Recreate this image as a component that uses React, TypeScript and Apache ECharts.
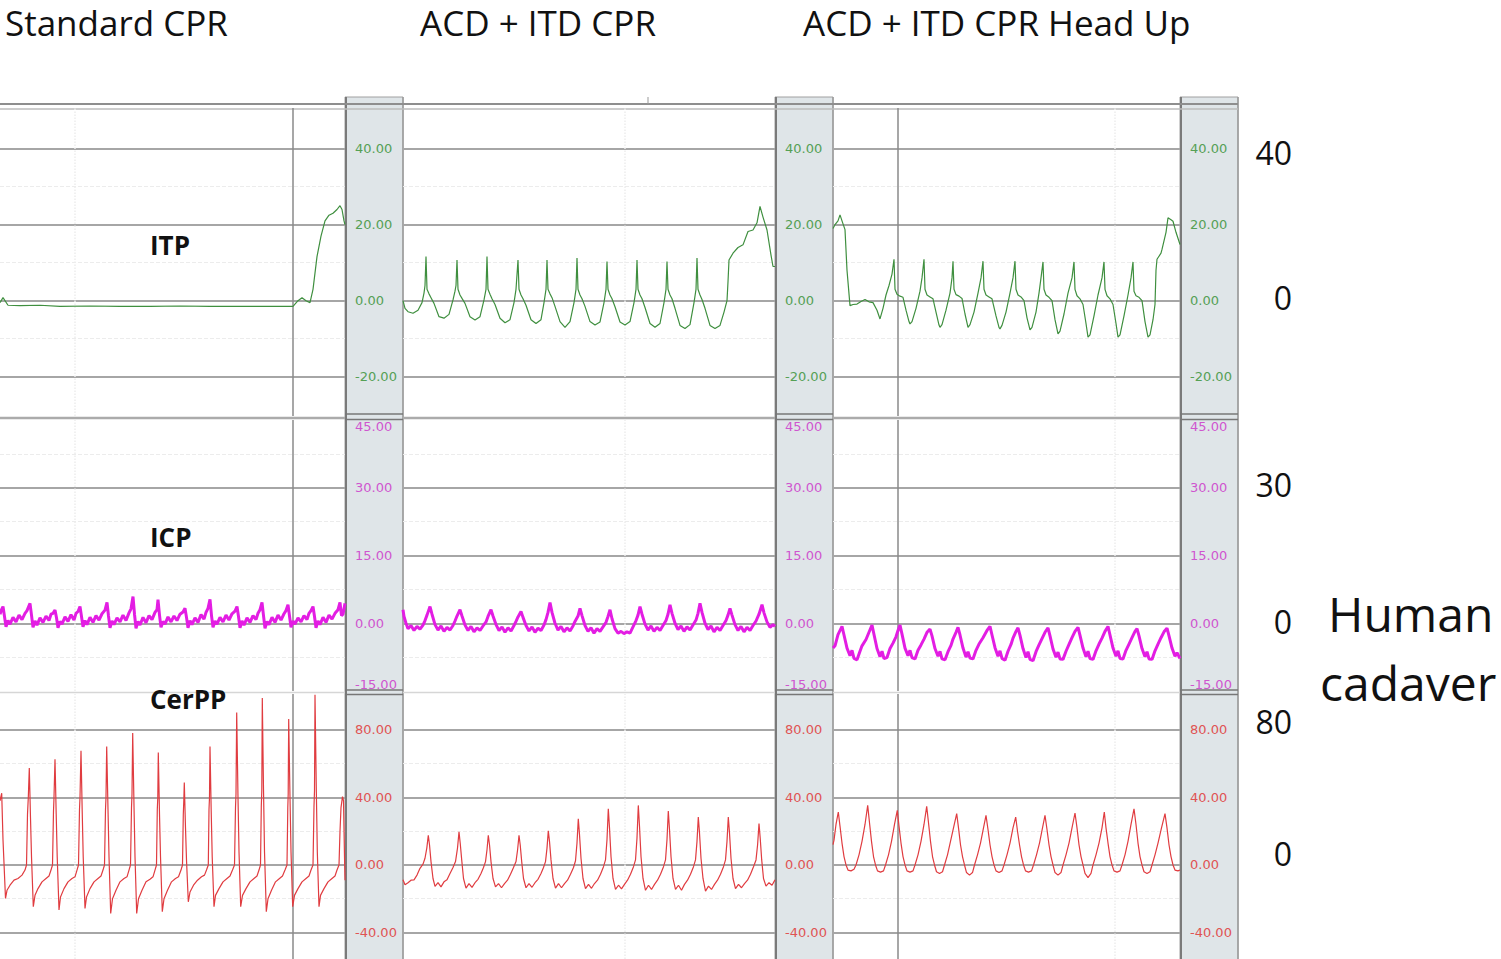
import React, { useEffect, useRef } from "react";
import * as echarts from "echarts";

// ---------- text ----------
const panelTitles = ["Standard CPR", "ACD + ITD CPR", "ACD + ITD CPR Head Up"];
const signalNames = ["ITP", "ICP", "CerPP"];
const sideScaleLabels = [["40", "0"], ["30", "0"], ["80", "0"]];
const sideCaption = ["Human", "cadaver"];

// ---------- axis ticks ----------
const itpTicks = [-20, 0, 20, 40];
const icpTicks = [-15, 0, 15, 30, 45];
const cerppTicks = [-40, 0, 40, 80];
const itpGridValues = [-20, 0, 20, 40];
const icpGridValues = [0, 15, 30];
const cerppGridValues = [-40, 0, 40, 80];
const itpMinorValues = [-10, 10, 30];
const icpMinorValues = [-7.5, 7.5, 22.5, 37.5];
const cerppMinorValues = [-20, 20, 60];

// ---------- ITP (mmHg) [time, value] ----------
const itpStandard: [number, number][] = [
  [0, -0.5], [3, 0.8], [8, -1.2], [20, -1.3], [40, -1.2], [60, -1.5], [90, -1.4], [120, -1.5], [150, -1.5], [180, -1.4],
  [210, -1.5], [240, -1.5], [270, -1.5], [293, -1.5], [298, 0], [302, 0.8], [306, 0], [310, -0.5], [313, 3], [317, 11.6],
  [321, 17], [325, 21], [329, 22.5], [333, 23], [337, 24], [340, 25], [342, 24], [344, 21], [345, 20],
];
const itpAcdItd: [number, number][] = [
  [0, 0], [2, -2], [5, -2.9], [10, -3.3], [15, -2.5], [19, -0.5], [21, 2], [22, 4],
  [23, 11.6], [24, 3], [26, 1.8], [28, 0.8], [31, -0.7], [36, -4.2], [41, -4.6], [46, -3.6], [50, 0.2], [52, 2.5], [53, 4],
  [54, 10.7], [55, 3], [57, 1.5], [59, 0.6], [62, -0.7], [67, -4.2], [72, -5.1], [77, -4.2], [81, 0.2], [83, 3],
  [84, 11.6], [85, 3], [87, 1.7], [89, 0.5], [92, -1], [97, -4.6], [102, -5.8], [107, -5], [111, -0.5], [113, 3],
  [115, 10.7], [116, 3], [118, 1.5], [120, 0.5], [123, -1.2], [128, -5], [133, -6], [138, -5], [141, -0.5], [143, 3],
  [144, 10.7], [145, 3], [147, 1.8], [149, 0.8], [152, -1.5], [157, -5.5], [162, -7], [167, -5.5], [171, -0.5], [173, 3],
  [174, 11.2], [175, 3], [177, 1.5], [179, 0.5], [182, -1.5], [187, -5.5], [192, -6.4], [197, -5.6], [201, -0.5], [203, 3],
  [204, 10.3], [205, 3], [207, 1.5], [209, 0.5], [212, -1.6], [217, -5.6], [222, -6.4], [227, -5.5], [231, -0.5], [233, 3],
  [234, 10.7], [235, 3], [237, 1.5], [239, 0.5], [242, -1.8], [247, -6], [252, -7], [257, -6], [261, -0.5], [263, 3],
  [264, 10.3], [265, 3], [267, 1.5], [269, 0.5], [272, -2], [277, -6.5], [282, -7.3], [287, -6.3], [291, -0.5], [293, 3],
  [294, 11.2], [295, 3], [297, 1.5], [299, 0.3], [302, -2], [307, -6.5], [312, -7.3], [317, -6.5], [321, -3], [324, 0],
  [325, 5], [326, 10.7], [330, 12.5], [335, 14], [340, 14.7], [345, 18.2], [350, 18.6], [354, 20.5], [357, 24.8],
  [360, 22], [364, 18.6], [368, 12], [370, 9], [372, 9],
];
const itpHeadUp: [number, number][] = [
  [0, 19], [2, 20], [5, 21], [7, 22.6], [9, 21], [12, 18.7], [14, 8], [17, -1.3], [20, -1], [24, -0.9], [28, -0.2],
  [32, 0.3], [36, -0.3], [40, -0.5], [44, -2.5], [47, -4.8], [50, -2], [53, 1.5], [56, 4], [59, 7],
  [61, 10.9], [62, 3], [64, 1.7], [67, 1.2], [70, 0.9], [73, -2.5], [76, -5.5], [77, -6.1], [79, -5.5], [83, -2], [87, 2.5], [89, 6],
  [91, 10.9], [92, 3], [94, 1.5], [97, 1], [100, 0.5], [103, -3], [106, -6.4], [107, -7], [109, -6.3], [113, -2.5], [117, 2], [119, 6],
  [120, 10.4], [121, 3], [123, 1.6], [126, 1.2], [129, 0.6], [132, -3.5], [135, -7], [137, -6.3], [141, -3], [145, 2], [148, 6],
  [150, 10.4], [151, 3], [153, 1.5], [156, 1], [159, 0.5], [163, -4], [166, -7], [167, -7.4], [169, -6.5], [173, -3], [177, 2], [180, 6],
  [182, 10.4], [183, 3], [185, 1.5], [188, 1], [191, 0], [194, -4.5], [197, -7.7], [199, -7], [203, -3], [206, 2], [208, 6],
  [210, 10.2], [211, 3], [213, 1.5], [216, 0.9], [219, 0], [222, -5], [225, -8.7], [227, -8], [231, -3.5], [235, 2], [239, 6],
  [241, 10.2], [242, 3], [244, 1.3], [247, 0.5], [250, -1], [253, -6], [255, -9.6], [257, -9], [261, -4], [265, 1.5], [269, 6],
  [271, 10.2], [272, 3], [274, 1.3], [277, 0.5], [280, -1], [283, -6], [285, -9.6], [287, -9], [291, -4], [295, 1.5], [298, 6],
  [300, 10.2], [301, 2.5], [303, 1.3], [306, 0.9], [309, 0], [312, -5.5], [315, -9.6], [317, -9], [320, -5], [322, -1],
  [323, 8], [324, 10.9], [328, 12.5], [329, 13.5], [333, 18], [335, 21.8], [338, 21.3], [340, 20.9], [343, 18], [347, 14.8],
];

// ---------- ICP (mmHg) ----------
const icpStandard: [number, number][] = [
  [0, 2], [1.5, 3], [3, 3.7], [4.5, 1.5], [6, -0.8], [8, 0.6], [10, -0.2], [13, 1.3], [16, 0.3], [19, 1.8], [22, 0.8], [25, 2.2], [27, 2.8],
  [30, 4.4], [31.5, 1.8], [33, -0.9], [35, 0.5], [37, -0.4], [40, 1.2], [43, 0.2], [46, 1.6], [49, 0.6], [51, 2], [53, 2.2],
  [55, 2.9], [56.5, 1.2], [58, -1], [60, 0.4], [62, -0.2], [65, 1.4], [68, 0.4], [71, 1.9], [74, 0.7], [76, 2.2], [78, 2.6],
  [80, 3.7], [81.5, 1.5], [83, -0.8], [85, 0.6], [87, -0.3], [90, 1.3], [93, 0.2], [96, 1.7], [99, 0.7], [102, 2.1], [105, 2.9],
  [107, 4.6], [108.5, 1.6], [110, -1], [112, 0.5], [114, -0.3], [117, 1.2], [120, 0.3], [123, 1.8], [126, 0.6], [129, 2.3], [131, 3.2],
  [133, 5.9], [134.5, 2], [136, -1.1], [138, 0.4], [140, -0.4], [143, 1.3], [146, 0.1], [149, 1.7], [152, 0.8], [155, 2.4], [157, 3],
  [158, 5.2], [159.5, 1.8], [161, -0.9], [163, 0.4], [165, -0.2], [168, 1.4], [171, 0.3], [174, 1.6], [177, 0.6], [180, 2], [183, 2.5],
  [185, 3.3], [186.5, 1.3], [188, -1], [190, 0.6], [192, -0.3], [195, 1.2], [198, 0.2], [201, 1.9], [204, 0.9], [206, 2.4], [208, 3.3],
  [210, 5.3], [211.5, 1.7], [213, -0.9], [215, 0.5], [217, -0.2], [220, 1.3], [223, 0.3], [226, 1.8], [229, 0.7], [232, 2.1], [235, 2.7],
  [237, 3.7], [238.5, 1.5], [240, -1], [242, 0.5], [244, -0.4], [247, 1.2], [250, 0.2], [253, 1.7], [256, 0.8], [258, 2.2], [260, 3],
  [262, 4.6], [263.5, 1.7], [265, -1.1], [267, 0.4], [269, -0.3], [272, 1.3], [275, 0.2], [278, 1.8], [281, 0.7], [284, 2.1], [286, 2.8],
  [288, 4.1], [289.5, 1.6], [291, -0.9], [293, 0.5], [295, -0.2], [298, 1.2], [301, 0.3], [304, 1.7], [307, 0.8], [309, 2.2], [311, 2.8],
  [313, 3.7], [314.5, 1.5], [316, -1], [318, 0.5], [320, -0.3], [323, 1.3], [326, 0.2], [329, 1.8], [332, 0.9], [335, 2.2], [338, 3],
  [340, 4.6], [341.5, 1.7], [343, 2], [345, 4.4],
];
const icpAcdItd: [number, number][] = [
  [0, 3], [1, 1.5], [3, 0], [5, -1.2], [8, -0.5], [11, -1.6], [14, -0.7], [17, -1.3], [20, -0.4], [22, 0.6], [24, 1.8],
  [27, 3.7], [29, 2], [32, -0.3], [35, -1.5], [38, -0.6], [41, -1.8], [44, -0.9], [47, -1.5], [50, -0.5], [52, 0.5], [54, 1.6],
  [57, 3], [59, 1.6], [62, -0.4], [65, -1.6], [68, -0.7], [71, -1.9], [74, -1], [77, -1.6], [80, -0.6], [83, 0.3], [85, 1.5],
  [88, 3], [90, 1.6], [93, -0.3], [96, -1.6], [99, -0.8], [102, -2], [105, -1], [108, -1.7], [111, -0.5], [113, 0.4], [115, 1.4],
  [118, 2.6], [120, 1.3], [123, -0.5], [126, -1.7], [129, -0.8], [132, -2], [135, -1.1], [138, -1.6], [141, -0.4], [143, 0.8], [145, 2.4],
  [147, 4.6], [149, 2.4], [152, 0], [155, -1.5], [158, -0.7], [161, -1.9], [164, -1], [167, -1.7], [170, -0.6], [172, 0.4], [175, 1.6],
  [177, 3.3], [179, 1.7], [182, -0.5], [185, -1.8], [188, -1], [191, -2.2], [194, -1.2], [197, -1.8], [200, -0.8], [203, 0.2], [205, 1.5],
  [207, 3], [209, 1], [212, -1.2], [215, -2.2], [218, -1.8], [221, -2.3], [224, -1.9], [227, -2.2], [230, -0.8], [233, 0.6], [235, 1.8],
  [237, 3.7], [239, 2], [242, -0.2], [245, -1.5], [248, -0.6], [251, -1.8], [254, -0.9], [257, -1.6], [260, -0.5], [263, 0.6], [265, 2],
  [267, 4.1], [269, 2.2], [272, 0], [275, -1.4], [278, -0.6], [281, -1.8], [284, -0.8], [287, -1.5], [290, -0.4], [293, 0.7], [295, 2.2],
  [297, 4.4], [299, 2.4], [302, 0], [305, -1.4], [308, -0.6], [311, -1.9], [314, -0.9], [317, -1.6], [320, -0.5], [323, 0.6], [325, 1.8],
  [327, 3.3], [329, 1.8], [332, -0.3], [335, -1.6], [338, -0.7], [341, -1.9], [344, -0.9], [347, -1.6], [350, -0.5], [353, 0.5], [356, 2],
  [359, 4.1], [361, 2.3], [364, 0.3], [367, -0.9], [370, -0.3], [372, -0.7],
];
const icpHeadUp: [number, number][] = [
  [0, -5.5], [2, -5], [5, -2.5], [9, -0.7], [11, -2.6], [14, -5.5], [17, -7.2], [19, -6], [21, -7.8], [24, -8.1], [27, -6.2], [29, -5], [33, -3.6], [36, -2],
  [39, -0.4], [41, -2.5], [44, -5.6], [47, -7.4], [49, -6.2], [51, -7.8], [54, -7.6], [57, -5.6], [60, -4.4], [63, -3], [65, -1.6],
  [67, -0.4], [69, -2.4], [72, -5.5], [75, -7.2], [77, -6], [79, -7.6], [82, -7.9], [85, -6], [88, -4.8], [91, -3.5], [94, -2],
  [97, -1.3], [99, -2.8], [102, -5.6], [105, -7.3], [107, -6.2], [109, -7.9], [112, -8.1], [115, -6.3], [118, -4.9], [120, -3.5], [123, -2],
  [125, -0.9], [127, -2.6], [130, -5.5], [133, -7.5], [135, -6.3], [137, -7.7], [140, -7.9], [143, -6], [146, -4.6], [150, -3.2], [154, -1.6],
  [157, -0.7], [159, -2.6], [162, -5.4], [165, -7.3], [167, -6.1], [169, -7.8], [172, -8.2], [175, -6.2], [178, -4.7], [180, -3.3], [183, -1.8],
  [185, -1], [187, -2.7], [190, -5.6], [193, -7.6], [195, -6.3], [197, -8], [200, -8.3], [203, -6.3], [206, -4.8], [209, -3.4], [212, -2],
  [215, -1], [217, -2.8], [220, -5.7], [223, -7.5], [225, -6.4], [227, -7.9], [230, -8], [233, -6.2], [236, -4.7], [239, -3.2], [242, -1.8],
  [245, -0.9], [247, -2.7], [250, -5.5], [253, -7.4], [255, -6.2], [257, -7.8], [260, -8], [263, -6.1], [266, -4.6], [269, -3.3], [272, -1.8],
  [275, -0.7], [277, -2.6], [280, -5.5], [283, -7.3], [285, -6.1], [287, -7.8], [290, -7.9], [293, -6], [296, -4.6], [299, -3.2], [302, -1.8],
  [304, -1.2], [306, -2.8], [309, -5.6], [312, -7.4], [314, -6.3], [316, -7.9], [319, -8], [322, -6.1], [325, -4.6], [328, -3.2], [331, -1.9],
  [334, -1.1], [336, -2.8], [339, -5.5], [342, -7.3], [344, -6.5], [347, -7.8],
];

// ---------- CerPP (mmHg) ----------
const cerppStandard: [number, number][] = [
  [0, 38], [1.7, 42.5], [3, 15], [5.5, -19.8], [7, -15], [10, -12], [14, -9], [18, -8], [22, -6], [25, -3], [26.5, 0],
  [27.5, 30], [28.3, 40], [29.3, 57.4], [30.5, 28], [31.5, 5], [33.3, -24.7], [35, -18], [38, -14], [42, -10], [46, -8], [49, -6.5], [51, -3], [52.5, 0],
  [53.5, 32], [54, 40], [55, 62.7], [56.2, 30], [57.2, 5], [59, -26.7], [60.5, -19], [64, -14], [68, -10], [72, -8], [75, -7], [77, -3], [78.5, 0],
  [79.5, 33], [80, 40], [81, 67.7], [82.2, 32], [83.2, 5], [85, -25.7], [86.5, -19], [90, -14], [94, -10], [98, -8], [101, -6.5], [103, -3], [104.5, 0],
  [105.5, 33], [106, 40], [106.7, 70.2], [108, 33], [109, 5], [110.7, -28.7], [112.5, -20], [116, -15], [120, -10], [124, -8], [127, -7], [129, -3], [130.5, 0],
  [131.5, 34], [132, 42], [132.7, 78.2], [134, 35], [135, 5], [136.7, -28.7], [138.5, -20], [142, -15], [146, -10], [150, -8.5], [153, -7], [155, -3], [156.5, 0],
  [157.3, 33], [157.8, 40], [158.3, 66.6], [159.5, 30], [160.5, 5], [162.3, -27.7], [164, -20], [167.5, -15], [171.5, -10], [175.5, -8], [178.5, -7], [181, -3], [182.5, 0],
  [183.3, 30], [183.8, 38], [184.3, 48.8], [185.5, 22], [186.5, 3], [188.3, -21.8], [190, -16], [193.5, -12], [197.5, -9], [201.5, -7], [204.5, -6], [206.5, -3], [208.3, 0],
  [209, 33], [209.5, 40], [210, 70.2], [211.2, 32], [212.2, 5], [214, -24.7], [215.5, -18], [219, -14], [223, -10], [227, -8], [230, -6.5], [232.5, -3], [234.5, 0],
  [235.5, 34], [236, 42], [236.7, 90.4], [238, 40], [239, 8], [240.7, -24.7], [242.5, -18], [246, -14], [250, -10], [254, -8], [257, -6.5], [259, -3], [260.5, 0],
  [261.3, 35], [261.8, 44], [262.3, 98.9], [263.5, 45], [264.5, 8], [266.3, -27.7], [268, -20], [271.5, -15], [275.5, -10], [279.5, -8], [282.5, -6.5], [285, -3], [287, 0],
  [287.8, 34], [288.2, 42], [288.7, 86.5], [290, 40], [291, 8], [292.7, -24.7], [294.5, -18], [298, -14], [302, -10], [306, -8], [309, -6.5], [311, -3], [313, 0],
  [314, 35], [314.5, 44], [315, 100.9], [316.3, 45], [317.3, 8], [319, -24.7], [320.5, -18], [324, -14], [328, -10], [332, -8], [335, -6.5], [337, -3], [339, 0],
  [340, 20], [341, 34], [342.5, 40.5], [343.5, 38], [344.5, 5], [345, -9],
];
const cerppAcdItd: [number, number][] = [
  [0, -8.8], [2, -11.7], [5, -10.5], [8, -9], [11, -8.8], [14, -6], [17, -2], [20, 0.5], [22, 4], [23.8, 10],
  [25.3, 17.6], [26.5, 12], [28, 2], [30, -8], [32, -12.7], [35, -10.5], [38, -13], [41, -10], [44, -8.8], [47, -5], [50, -1.5], [52.5, 2], [54.5, 10],
  [56, 19.6], [57.2, 13], [58.7, 3], [60.5, -8], [63, -13.7], [66, -11], [69, -13.3], [72, -10.5], [75, -8.5], [78, -5], [80.5, -1.5], [82.5, 2], [84, 9],
  [85.3, 17.6], [86.5, 12], [88, 2], [90, -8], [92.5, -13], [95.5, -11], [98.5, -13.5], [101.5, -11], [104.5, -9], [107.5, -5.5], [110.5, -1.5], [113, 2], [114.6, 9],
  [116, 17.6], [117.2, 12], [118.7, 2], [120.5, -8], [123, -13.5], [126, -11], [129, -13.2], [132, -10.5], [135, -8.5], [138, -5], [140.5, -1.5], [142.5, 2], [144, 10],
  [145.3, 20.2], [146.5, 14], [148, 3], [150, -8], [152.5, -13.7], [155.5, -11], [158.5, -13.5], [161.5, -11], [164.5, -9], [167.5, -5.5], [170.5, -1.5], [172.5, 2.5], [174, 13],
  [175.3, 27.4], [176.5, 18], [178, 4], [180, -8], [182.5, -14], [185.5, -11.5], [188.5, -13.8], [191.5, -11], [194.5, -9], [197.5, -5.5], [200.5, -1], [202.5, 3], [204, 15],
  [205.3, 33.3], [206.5, 22], [208, 5], [210, -8], [212.5, -14.5], [215.5, -12], [218.5, -14.2], [221.5, -11.5], [224.5, -9], [227.5, -5.5], [230.5, -1], [232.5, 3], [234, 16],
  [235.3, 35.3], [236.5, 23], [238, 5], [240, -8], [242.5, -15], [245.5, -12], [248.5, -14.5], [251.5, -11.5], [254.5, -9], [257.5, -5.5], [260.5, -1], [262.5, 3], [264, 15],
  [265.3, 32], [266.5, 21], [268, 5], [270, -8], [272.5, -14.5], [275.5, -12], [278.5, -15], [281.5, -11.5], [284.5, -9], [287.5, -5.5], [290.5, -1], [292.5, 3], [294, 14],
  [295.3, 28.4], [296.5, 19], [298, 4], [300, -8], [302.5, -15.5], [305.5, -12.5], [308.5, -14.5], [311.5, -11.5], [314.5, -9], [317.5, -5.5], [320.5, -1], [322.5, 3], [324, 14],
  [325.3, 28.4], [326.5, 19], [328, 4], [330, -8], [332.5, -14], [335.5, -11.5], [338.5, -13.5], [341.5, -11], [344.5, -9], [347.5, -5.5], [350.5, -1], [353, 3], [354.6, 12],
  [356, 24.5], [357.2, 16], [358.7, 3], [360.5, -8], [363, -12.5], [366, -10.5], [369, -12], [372, -8.8],
];
const cerppHeadUp: [number, number][] = [
  [0, 12], [1, 14.7], [3, 24], [5.3, 31.4], [7, 23], [9, 13], [11, 5], [13, 0], [15, -3], [18, -3.5], [21, -2.5], [23, 0], [26, 6], [29, 14], [32, 24],
  [34.7, 35.3], [36.5, 25], [38.5, 14], [40.5, 5], [42.5, 0], [44.5, -3.5], [47.5, -4.2], [50.5, -3.5], [52.5, 0], [55.5, 6], [58.5, 14], [61.5, 24],
  [64.3, 32.4], [66, 23], [68, 13], [70, 5], [72, 0], [74, -3.5], [77, -4.2], [80, -3.5], [82, 0], [85, 6], [88, 14], [91, 24],
  [93.7, 34.7], [95.5, 25], [97.5, 14], [99.5, 5], [101.5, 0], [103.5, -4], [106.5, -5], [109.5, -4], [111.5, 0], [114.5, 6], [117.5, 14], [120.5, 22],
  [123.7, 30.4], [125.5, 22], [127.5, 12], [129.5, 5], [131.5, 0], [133.5, -4.5], [136.5, -6], [139.5, -4.5], [141.5, 0], [144.5, 6], [147.5, 13], [150.5, 22],
  [153, 29.4], [155, 21], [157, 12], [159, 5], [161, 0], [163, -3.5], [166, -4.5], [169, -3.5], [171, 0], [174, 6], [177, 13], [180, 22],
  [182.7, 28.4], [184.5, 20], [186.5, 12], [188.5, 5], [190.5, 0], [192.5, -3.5], [195.5, -4.2], [198.5, -3.5], [200.5, 0], [203.5, 6], [206.5, 13], [209.5, 22],
  [212, 29.4], [214, 21], [216, 12], [218, 5], [220, 0], [222, -4.5], [225, -6], [228, -4.5], [230, 0], [233, 6], [236, 13], [239, 22],
  [242, 30.8], [244, 22], [246, 12], [248, 5], [250, 0], [252, -5], [255, -7.5], [258, -5], [260, 0], [263, 6], [266, 13], [269, 22],
  [271.3, 31.4], [273, 22], [275, 13], [277, 5], [279, 0], [281, -3.5], [284, -4.2], [287, -3.5], [289, 0], [292, 6], [295, 14], [298, 24],
  [301, 33.3], [303, 24], [305, 13], [307, 5], [309, 0], [311, -4], [314, -5], [317, -4], [319, 0], [322, 6], [325, 13], [328.5, 22],
  [332, 30.4], [334, 22], [336, 12], [338, 5], [340, 0], [342, -3], [345, -3.5], [347, -3],
];

// ---------- vertical time markers (per panel, in time units) ----------
const majorTimeMarks = [[293], [], [65]];
const faintTimeMarks = [[75], [222], [282]];

export default function App() {
  const ref = useRef<HTMLDivElement>(null);

  useEffect(() => {
    if (!ref.current) return;
    const chart = echarts.init(ref.current, null, { renderer: "svg" });

    const cols = [
      { left: 0, width: 345 },
      { left: 403, width: 372 },
      { left: 833, width: 347 },
    ];
    const rows = [
      {
        top: 108, height: 308, min: -30.34, max: 50.71,
        data: [itpStandard, itpAcdItd, itpHeadUp], ticks: itpTicks, grid: itpGridValues, minor: itpMinorValues,
        color: "#3f8f3f", width: 1.2, labelColor: "#55a055",
      },
      {
        top: 420, height: 271, min: -15, max: 45,
        data: [icpStandard, icpAcdItd, icpHeadUp], ticks: icpTicks, grid: icpGridValues, minor: icpMinorValues,
        color: "#e31de3", width: 3, labelColor: "#cf55cf",
      },
      {
        top: 694, height: 265, min: -55.7, max: 101.3,
        data: [cerppStandard, cerppAcdItd, cerppHeadUp], ticks: cerppTicks, grid: cerppGridValues, minor: cerppMinorValues,
        color: "#e03c40", width: 1.2, labelColor: "#e05353",
      },
    ];

    const grids: any[] = [];
    const xAxes: any[] = [];
    const yAxes: any[] = [];
    const series: any[] = [];
    const majorStyle = { color: "#a6a6a6", width: 2, type: "solid" };
    const minorStyle = { color: "#ececec", width: 1, type: "dashed" };
    const vMajorStyle = { color: "#8a8a8a", width: 1.5, type: "solid" };
    const vFaintStyle = { color: "#ededed", width: 1.5, type: "dotted" };

    rows.forEach((r, ri) => {
      cols.forEach((c, ci) => {
        const idx = ri * 3 + ci;
        grids.push({
          left: c.left, top: r.top, width: c.width, height: r.height,
          containLabel: false, outerBoundsMode: "none", show: false,
        });
        xAxes.push({ type: "value", gridIndex: idx, min: 0, max: c.width, show: false });
        yAxes.push({
          type: "value", gridIndex: idx, position: "right", min: r.min, max: r.max, z: 10,
          axisLine: { show: false }, axisTick: { show: false }, splitLine: { show: false },
          axisLabel: {
            customValues: r.ticks,
            formatter: (v: number) => v.toFixed(2),
            color: r.labelColor, fontSize: 13, fontFamily: "DejaVu Sans", margin: 10,
            verticalAlignMinLabel: ri === 1 ? "bottom" : undefined,
            verticalAlignMaxLabel: ri === 1 ? "top" : undefined,
          },
        });
        const mlData: any[] = [
          ...r.grid.map((v) => ({ yAxis: v, lineStyle: majorStyle })),
          ...r.minor.map((v) => ({ yAxis: v, lineStyle: minorStyle })),
          ...majorTimeMarks[ci].map((t) => ({ xAxis: t, lineStyle: vMajorStyle })),
          ...faintTimeMarks[ci].map((t) => ({ xAxis: t, lineStyle: vFaintStyle })),
        ];
        series.push({
          type: "line", name: signalNames[ri] + " " + panelTitles[ci],
          xAxisIndex: idx, yAxisIndex: idx, data: r.data[ci],
          showSymbol: false, symbol: "none", silent: true, z: 3,
          lineStyle: { color: r.color, width: r.width },
          markLine: {
            silent: true, symbol: ["none", "none"], z: 2, animation: false,
            label: { show: false }, emphasis: { disabled: true },
            data: mlData,
          },
        });
      });
    });

    // decorative frame
    const g: any[] = [];
    const strips = [[345, 403], [775, 833], [1180, 1238]];
    strips.forEach(([l, rr]) => {
      g.push({ type: "rect", silent: true, z: 1, shape: { x: l, y: 97, width: rr - l, height: 870 }, style: { fill: "#dfe5e8", stroke: "#a0a0a0", lineWidth: 1 } });
      g.push({ type: "line", silent: true, z: 2, shape: { x1: l + 1, y1: 97, x2: l + 1, y2: 959 }, style: { stroke: "#7a7a7a", lineWidth: 2 } });
      g.push({ type: "line", silent: true, z: 2, shape: { x1: rr, y1: 97, x2: rr, y2: 959 }, style: { stroke: "#9c9c9c", lineWidth: 1.5 } });
      [414, 419.5, 690, 694.5].forEach((y) =>
        g.push({ type: "line", silent: true, z: 2, shape: { x1: l, y1: y, x2: rr, y2: y }, style: { stroke: "#777", lineWidth: 1.5 } })
      );
    });
    g.push({ type: "line", silent: true, z: 2, shape: { x1: 0, y1: 104, x2: 1238, y2: 104 }, style: { stroke: "#8e8e8e", lineWidth: 2 } });
    g.push({ type: "line", silent: true, z: 2, shape: { x1: 0, y1: 109, x2: 1238, y2: 109 }, style: { stroke: "#bdbdbd", lineWidth: 1.5 } });
    g.push({ type: "line", silent: true, z: 2, shape: { x1: 648, y1: 97, x2: 648, y2: 104 }, style: { stroke: "#999", lineWidth: 1 } });
    cols.forEach((c) => {
      g.push({ type: "line", silent: true, z: 2, shape: { x1: c.left, y1: 418, x2: c.left + c.width, y2: 418 }, style: { stroke: "#ababab", lineWidth: 2.5 } });
      g.push({ type: "line", silent: true, z: 2, shape: { x1: c.left, y1: 692.5, x2: c.left + c.width, y2: 692.5 }, style: { stroke: "#d6d6d6", lineWidth: 1.5 } });
    });

    const titleX = [5, 420, 803];
    panelTitles.forEach((t, i) =>
      g.push({ type: "text", z: 20, silent: true, style: { text: t, x: titleX[i], y: 22, font: '35px "Open Sans"', fill: "#111", align: "left", verticalAlign: "middle", textAlign: "left", textVerticalAlign: "middle" } })
    );
    const nameY = [245, 537, 699];
    signalNames.forEach((t, i) =>
      g.push({ type: "text", z: 20, silent: true, style: { text: t, x: 150, y: nameY[i], font: 'bold 26px "Open Sans"', fill: "#111", align: "left", verticalAlign: "middle", textAlign: "left", textVerticalAlign: "middle" } })
    );
    const sideY = [[152, 297], [484, 621], [721, 853]];
    sideScaleLabels.forEach((pair, i) =>
      pair.forEach((t, j) =>
        g.push({ type: "text", z: 20, silent: true, style: { text: t, x: 1292, y: sideY[i][j], font: '32px "Open Sans"', fill: "#111", align: "right", verticalAlign: "middle", textAlign: "right", textVerticalAlign: "middle" } })
      )
    );
    const capX = [1328, 1320];
    const capY = [613, 682];
    sideCaption.forEach((t, i) =>
      g.push({ type: "text", z: 20, silent: true, style: { text: t, x: capX[i], y: capY[i], font: '48px "Open Sans"', fill: "#111", align: "left", verticalAlign: "middle", textAlign: "left", textVerticalAlign: "middle" } })
    );

    chart.setOption({
      animation: false,
      backgroundColor: "#ffffff",
      grid: grids,
      xAxis: xAxes,
      yAxis: yAxes,
      series,
      graphic: { elements: g },
    });

    return () => chart.dispose();
  }, []);

  return (
    <div
      ref={ref}
      style={{ position: "fixed", left: 0, top: 0, width: 1501, height: 959, background: "#fff" }}
    />
  );
}
